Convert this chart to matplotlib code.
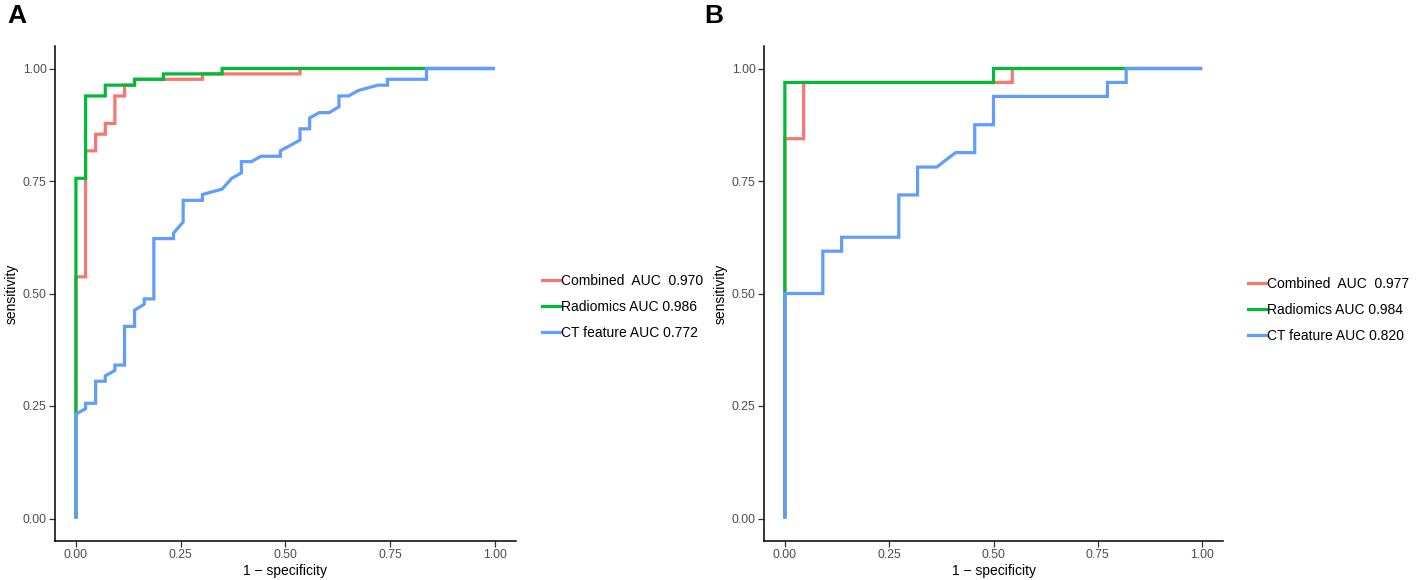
import matplotlib
matplotlib.use("Agg")
import matplotlib.pyplot as plt
from matplotlib.lines import Line2D

plt.rcParams['font.family'] = ['Liberation Sans', 'DejaVu Sans']

# ROC points: panel A (training) and panel B (validation)
models = ["Combined", "Radiomics", "CT feature"]
colors = ["#F8766D", "#00BA38", "#619CFF"]

a_comb_x = [0, 0, 0.023, 0.023, 0.047, 0.047, 0.070, 0.070, 0.093, 0.093, 0.116, 0.116,
            0.140, 0.140, 0.302, 0.302, 0.535, 0.535, 1.0]
a_comb_y = [0, 0.537, 0.537, 0.817, 0.817, 0.854, 0.854, 0.878, 0.878, 0.939, 0.939, 0.963,
            0.963, 0.976, 0.976, 0.988, 0.988, 1.0, 1.0]
a_rad_x = [0, 0, 0.023, 0.023, 0.070, 0.070, 0.140, 0.140, 0.209, 0.209, 0.349, 0.349, 1.0]
a_rad_y = [0, 0.756, 0.756, 0.939, 0.939, 0.963, 0.963, 0.976, 0.976, 0.988, 0.988, 1.0, 1.0]
a_ct_x = [0, 0, 0.023, 0.023, 0.047, 0.047, 0.070, 0.070, 0.093, 0.093,
          0.116, 0.116, 0.140, 0.140, 0.163, 0.163, 0.186, 0.186, 0.233, 0.233,
          0.256, 0.256, 0.302, 0.302, 0.349, 0.372, 0.395, 0.395, 0.419, 0.442,
          0.488, 0.488, 0.535, 0.535, 0.558, 0.558, 0.581, 0.605, 0.628, 0.628,
          0.651, 0.674, 0.721, 0.744, 0.744, 0.837, 0.837, 1.0]
a_ct_y = [0, 0.232, 0.244, 0.256, 0.256, 0.305, 0.305, 0.317, 0.329, 0.341,
          0.341, 0.427, 0.427, 0.463, 0.476, 0.488, 0.488, 0.622, 0.622, 0.634,
          0.659, 0.707, 0.707, 0.720, 0.732, 0.756, 0.768, 0.793, 0.793, 0.805,
          0.805, 0.817, 0.841, 0.866, 0.866, 0.890, 0.902, 0.902, 0.915, 0.939,
          0.939, 0.951, 0.963, 0.963, 0.976, 0.976, 1.0, 1.0]
a_auc = ["0.970", "0.986", "0.772"]

b_comb_x = [0, 0, 0.045, 0.045, 0.545, 0.545, 1.0]
b_comb_y = [0, 0.844, 0.844, 0.969, 0.969, 1.0, 1.0]
b_rad_x = [0, 0, 0.5, 0.5, 1.0]
b_rad_y = [0, 0.969, 0.969, 1.0, 1.0]
b_ct_x = [0, 0, 0.091, 0.091, 0.136, 0.136, 0.273, 0.273, 0.318, 0.318, 0.364,
          0.409, 0.455, 0.455, 0.5, 0.5, 0.773, 0.773, 0.818, 0.818, 1.0]
b_ct_y = [0, 0.5, 0.5, 0.594, 0.594, 0.625, 0.625, 0.719, 0.719, 0.781, 0.781,
          0.813, 0.813, 0.875, 0.875, 0.938, 0.938, 0.969, 0.969, 1.0, 1.0]
b_auc = ["0.977", "0.984", "0.820"]

ticks = [0, 0.25, 0.5, 0.75, 1.0]
tick_labels = ["0.00", "0.25", "0.50", "0.75", "1.00"]

fig = plt.figure(figsize=(14.17, 5.8), dpi=100)
W, H = 1417, 580


def make_label(name, auc):
    if name == "Combined":
        return "Combined  AUC  " + auc
    return name + " AUC " + auc


def draw_panel(rect, curves, aucs, letter, letter_x, leg_x, leg_y):
    ax = fig.add_axes(rect)
    for (xs, ys), c in zip(curves, colors):
        ax.plot(xs, ys, color=c, lw=2.3, solid_joinstyle='miter',
                solid_capstyle='butt', snap=False)
    ax.set_xlim(-0.05, 1.05)
    ax.set_ylim(-0.05, 1.05)
    ax.set_xticks(ticks)
    ax.set_xticklabels(tick_labels)
    ax.set_yticks(ticks)
    ax.set_yticklabels(tick_labels)
    for s in ["top", "right"]:
        ax.spines[s].set_visible(False)
    for s in ["left", "bottom"]:
        ax.spines[s].set_linewidth(1.1)
        ax.spines[s].set_color("black")
    ax.tick_params(length=4, width=0.9, color="#333333", labelsize=8.8,
                   labelcolor="#4D4D4D", pad=2)
    ax.set_xlabel("1 \u2212 specificity", fontsize=10, labelpad=2)
    ax.set_ylabel("sensitivity", fontsize=10, labelpad=3)

    handles = [Line2D([0], [0], color=c, lw=2.3) for c in colors]
    labels = [make_label(m, a) for m, a in zip(models, aucs)]
    fig.legend(handles, labels, loc="center left", bbox_to_anchor=(leg_x / W, 1 - leg_y / H),
               frameon=False, fontsize=10, handlelength=1.35, handletextpad=0.05,
               labelspacing=0.85, borderpad=0, borderaxespad=0)
    fig.text(letter_x / W, 1 - 16 / H, letter, fontsize=19, fontweight="bold",
             ha="left", va="center")
    return ax


rect_a = [55 / W, 1 - 541 / H, (515.7 - 55) / W, (541 - 46) / H]
rect_b = [764 / W, 1 - 541 / H, (1223 - 764) / W, (541 - 46) / H]

draw_panel(rect_a, [(a_comb_x, a_comb_y), (a_rad_x, a_rad_y), (a_ct_x, a_ct_y)],
           a_auc, "A", 7, 542, 307)
draw_panel(rect_b, [(b_comb_x, b_comb_y), (b_rad_x, b_rad_y), (b_ct_x, b_ct_y)],
           b_auc, "B", 704, 1248, 310)

fig.savefig("out.png", dpi=100)
